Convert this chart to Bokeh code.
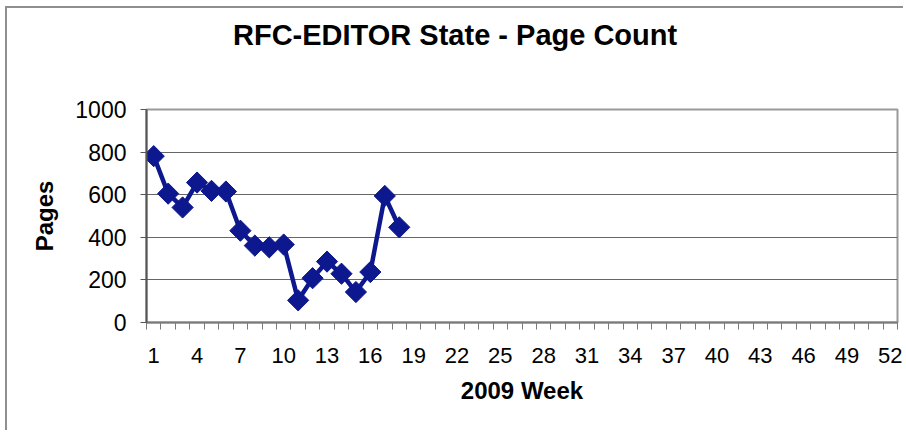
import numpy as np
from bokeh.plotting import figure
from bokeh.layouts import column
from bokeh.models import FixedTicker, Range1d, ColumnDataSource, Div
from bokeh.embed import file_html
from bokeh.resources import INLINE

# Data
weeks = list(range(1, 19))
pages = [781, 605, 540, 657, 618, 615, 431, 361, 353, 366, 104, 208, 286, 229, 143, 237, 594, 447]
x_tick_values = list(range(1, 53, 3))
y_tick_values = [0, 200, 400, 600, 800, 1000]

title_text = "RFC-EDITOR State - Page Count"
x_title = "2009 Week"
y_title = "Pages"

src = ColumnDataSource(data=dict(week=weeks, pages=pages))

title_div = Div(text=title_text, width=896, height=52, margin=0,
                styles={"font-family": "Liberation Sans", "font-size": "29px",
                        "font-weight": "bold", "color": "black",
                        "box-sizing": "border-box", "padding-top": "11px",
                        "text-indent": "226px", "line-height": "normal",
                        "white-space": "nowrap"})

p = figure(width=896, height=370, output_backend="svg", toolbar_location=None,
           x_range=Range1d(0.5, 52.5), y_range=Range1d(0, 1000), margin=0,
           min_border_left=139, min_border_right=6, min_border_top=49, min_border_bottom=108)

p.background_fill_color = "white"
p.border_fill_color = "white"
p.outline_line_color = "#9a9a9a"
p.outline_line_width = 2

# grid
p.xgrid.grid_line_color = None
p.ygrid.grid_line_color = "#666666"
p.ygrid.grid_line_width = 1.2

# x axis
p.xaxis.ticker = FixedTicker(ticks=x_tick_values,
                             minor_ticks=[i + 0.5 for i in range(0, 53)])
p.xaxis.major_tick_out = 0
p.xaxis.major_tick_in = 0
p.xaxis.minor_tick_out = 7
p.xaxis.minor_tick_in = 0
p.xaxis.minor_tick_line_color = "#7a7a7a"
p.xaxis.axis_line_color = "#7a7a7a"
p.xaxis.axis_line_width = 2
p.xaxis.major_label_standoff = 18
p.xaxis.major_label_text_font = "Liberation Sans"
p.xaxis.major_label_text_font_size = "22px"
p.xaxis.major_label_text_color = "black"
p.xaxis.axis_label = x_title
p.xaxis.axis_label_text_font = "Liberation Sans"
p.xaxis.axis_label_text_font_size = "24px"
p.xaxis.axis_label_text_font_style = "bold"
p.xaxis.axis_label_text_color = "black"
p.xaxis.axis_label_standoff = 11

# y axis
p.yaxis.ticker = FixedTicker(ticks=y_tick_values, minor_ticks=[])
p.yaxis.major_tick_out = 6
p.yaxis.major_tick_in = 0
p.yaxis.major_tick_line_color = "#555555"
p.yaxis.axis_line_color = "#555555"
p.yaxis.axis_line_width = 2
p.yaxis.major_label_standoff = 14
p.yaxis.major_label_text_font = "Liberation Sans"
p.yaxis.major_label_text_font_size = "23px"
p.yaxis.major_label_text_color = "black"
p.yaxis.axis_label = y_title
p.yaxis.axis_label_text_font = "Liberation Sans"
p.yaxis.axis_label_text_font_size = "24px"
p.yaxis.axis_label_text_font_style = "bold"
p.yaxis.axis_label_text_color = "black"
p.yaxis.axis_label_standoff = 14

navy = "#0e188e"
p.line("week", "pages", source=src, line_color=navy, line_width=4.5)
p.scatter("week", "pages", source=src, marker="square", size=15, angle=np.pi / 4,
          fill_color=navy, line_color=navy)

layout = column(title_div, p, spacing=0, margin=(6, 0, 0, 5),
                styles={"border-left": "2px solid #8f8f8f", "border-top": "2px solid #8f8f8f"})

open("out.html", "w").write(file_html(layout, INLINE))
